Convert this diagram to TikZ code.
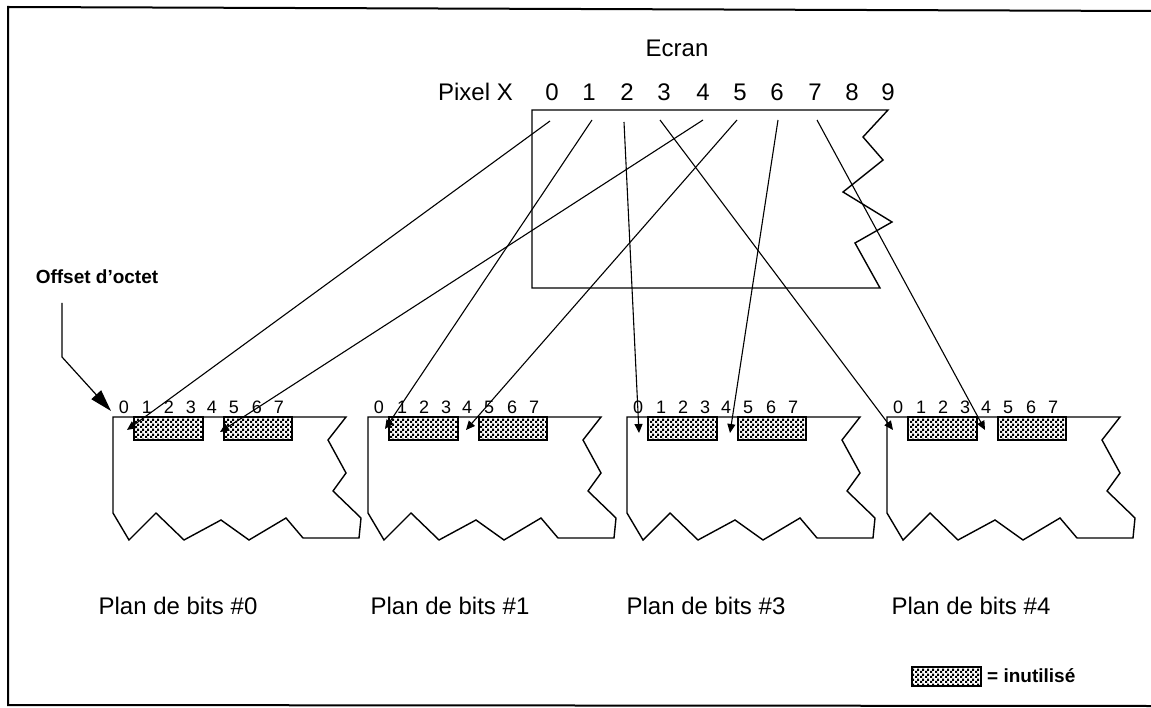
\documentclass[tikz,border=0pt]{standalone}
\usepackage{fontspec}
\setmainfont{Liberation Sans}
\usetikzlibrary{arrows.meta,patterns}
\pgfdeclarepatternformonly{finechecker}{\pgfpointorigin}{\pgfpoint{5pt}{5pt}}{\pgfpoint{5pt}{5pt}}{%
  \pgfpathrectangle{\pgfpointorigin}{\pgfpoint{2.5pt}{2.5pt}}%
  \pgfpathrectangle{\pgfpoint{2.5pt}{2.5pt}}{\pgfpoint{2.5pt}{2.5pt}}%
  \pgfusepath{fill}}
\tikzset{
  bigtxt/.style={font=\fontsize{24}{28}\selectfont, inner sep=0pt},
  bittxt/.style={font=\fontsize{18}{21}\selectfont, inner sep=0pt},
  boldtxt/.style={font=\fontsize{19}{23}\selectfont\bfseries, inner sep=0pt},
  outline/.style={draw=black, line width=1.4pt, line join=miter},
  unused/.style={draw=black, line width=1.2pt, pattern=finechecker, pattern color=black},
  link/.style={draw=black, line width=1.1pt, -{Triangle[length=9pt,width=8pt]}},
  bigarrow/.style={draw=black, line width=1.2pt, -{Triangle[length=22pt,width=13pt]}}
}
\begin{document}
\begin{tikzpicture}[x=1pt,y=-1pt]
\useasboundingbox (0,0) rectangle (1151,708);
% outer frame
\draw[line width=2pt] (1151,11) -- (8,7) -- (8,705) -- (1151,706);

% screen
\node[bigtxt] (ecran) at (677,48) {Ecran};
\node[bigtxt, anchor=east] (pixx) at (513,92) {Pixel X};
\foreach \d/\x in {0/552,1/589,2/627,3/664,4/703,5/740,6/777,7/815,8/852,9/888}
  \node[bigtxt] (px\d) at (\x,92) {\d};
\draw[outline] (888,110) -- (863,137) -- (883,160) -- (843,192) -- (892,222)
  -- (855,243) -- (880,288) -- (532,288) -- (532,110) -- cycle;

\coordinate (s0) at (550,121);
\coordinate (s1) at (592,120);
\coordinate (s2) at (624,122);
\coordinate (s3) at (660,120);
\coordinate (s4) at (703,120);
\coordinate (s5) at (737,120);
\coordinate (s6) at (778,120);
\coordinate (s7) at (817,120);

% bit planes
\foreach \p/\xo/\lab/\lx in {0/113/0/178, 1/368/1/450, 3/627/3/706, 4/887/4/971}{
  \begin{scope}[shift={(\xo,417)}]
    \draw[outline] (0,0) -- (233,0) -- (215,23) -- (233,56) -- (220,74) -- (248,101)
      -- (246,121) -- (190,121) -- (173,101) -- (136,123) -- (108,103) -- (71,123)
      -- (43,96) -- (16,123) -- (0,96) -- cycle;
    \draw[unused] (21,0) rectangle (90,23);
    \draw[unused] (111,0) rectangle (179,23);
    \foreach \i/\bx in {0/11,1/34,2/56,3/78,4/99,5/121,6/144,7/166}
      \node[bittxt] (b\p-\i) at (\bx,-10) {\i};
  \end{scope}
  \node[bigtxt] (plan\p) at (\lx,606) {Plan de bits \#\lab};
}

\coordinate (t0a) at (127,430);
\coordinate (t0b) at (220,432);
\coordinate (t1a) at (385,429);
\coordinate (t1b) at (466,430);
\coordinate (t3a) at (639,433);
\coordinate (t3b) at (730,433);
\coordinate (t4a) at (893,430);
\coordinate (t4b) at (985,430);

\draw[link] (s0) -- (t0a);
\draw[link] (s4) -- (t0b);
\draw[link] (s1) -- (t1a);
\draw[link] (s5) -- (t1b);
\draw[link] (s2) -- (t3a);
\draw[link] (s6) -- (t3b);
\draw[link] (s3) -- (t4a);
\draw[link] (s7) -- (t4b);

% offset label
\node[boldtxt] (offset) at (97,277) {Offset d'octet};
\coordinate (o1) at (62,303);
\coordinate (o2) at (62,357);
\coordinate (o3) at (111,411);
\draw[bigarrow] (o1) -- (o2) -- (o3);

% legend
\draw[unused] (912,667) rectangle (981,686);
\node[boldtxt, anchor=west] (leg) at (987,676) {= inutilisé};
\end{tikzpicture}
\end{document}
